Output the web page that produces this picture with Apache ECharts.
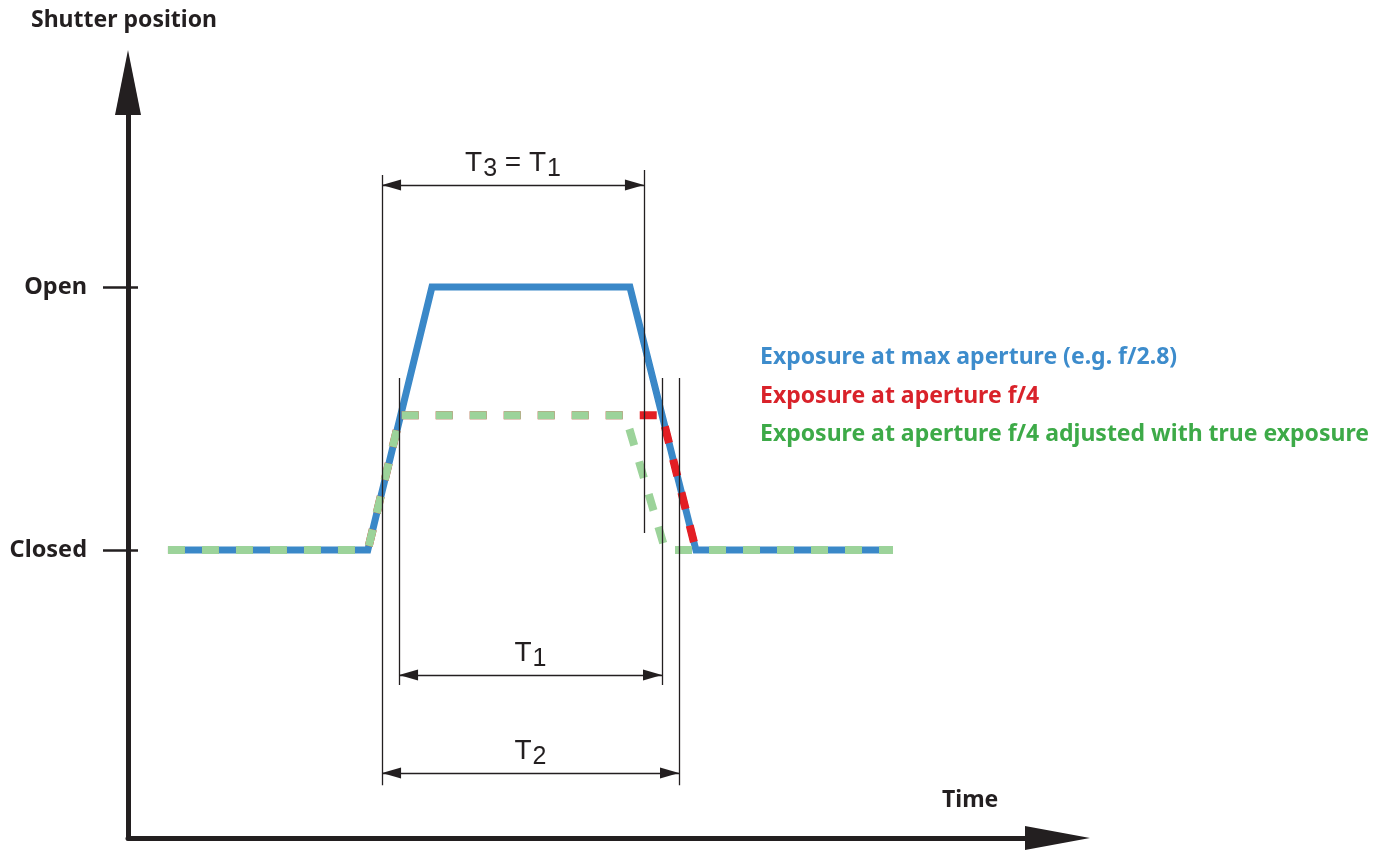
<!DOCTYPE html>
<html>
<head>
<meta charset="utf-8">
<script src="https://cdn.jsdelivr.net/npm/echarts@6/dist/echarts.min.js"></script>
<style>
  html, body { margin: 0; padding: 0; background: #fff; }
  #chart { width: 1379px; height: 853px; }
</style>
</head>
<body>
<div id="chart"></div>
<script>
// shutter position: 0 = closed, 1 = open ; time in arbitrary units
const seriesNames = [
  'Exposure at max aperture (e.g. f/2.8)',
  'Exposure at aperture f/4',
  'Exposure at aperture f/4 adjusted with true exposure'
]
const timeBlue = [4.3, 25.8, 32.7, 54.0, 61.1, 82.3]
const posBlue = [0, 0, 1, 1, 0, 0]
// red runs under the green one, only its closing slope shows
const timeRed = [4.3, 25.8, 29.3, 57.45, 61.1]
const posRed = [0, 0, 0.513, 0.513, 0]
const timeGreen = [4.3, 25.8, 29.3, 53.5, 57.8, 82.3]
const posGreen = [0, 0, 0.513, 0.513, 0, 0]

// thin vertical guides
const guideTimes = [27.33, 29.16, 55.51, 57.45, 59.28]
const guideTop = [1.426, 0.654, 1.445, 0.654, 0.654]
const guideBottom = [-0.894, -0.513, 0.065, -0.513, -0.894]

// dimension arrows
const spanLabels = ['{t|T}{s|3}{t| = T}{s|1}', '{t|T}{s|1}', '{t|T}{s|2}']
const spanStart = [27.33, 29.16, 27.33]
const spanEnd = [55.51, 57.45, 59.28]
const spanLevel = [1.388, -0.475, -0.848]

const posTicks = [0, 1]
const posTickLabels = ['Closed', 'Open']

const ink = '#231f20'
const colors = ['#3a88c8', '#e31e24', '#9cd39a']
const textColors = ['#3d8ccc', '#d9222a', '#3daa48']

const pairs = (xs, ys) => xs.map((x, i) => [x, ys[i]])

const chart = echarts.init(document.getElementById('chart'))

const guideLines = guideTimes.map((t, i) => [
  { coord: [t, guideTop[i]], symbol: 'none' },
  { coord: [t, guideBottom[i]], symbol: 'none' }
])

const spanLines = spanLabels.map((lab, i) => [
  {
    coord: [spanStart[i], spanLevel[i]],
    label: { show: true, formatter: lab }
  },
  { coord: [spanEnd[i], spanLevel[i]] }
])

const option = {
  animation: false,
  grid: { left: 128, right: 321.5, top: 82.5, bottom: 15 },
  legend: {
    orient: 'vertical',
    left: 750,
    top: 341,
    icon: 'none',
    itemWidth: 0,
    itemHeight: 18,
    itemGap: 15.5,
    selectedMode: false,
    textStyle: { fontFamily: 'Noto Sans', fontWeight: 'bold', fontSize: 23, lineHeight: 23 },
    data: seriesNames.map((n, i) => ({ name: n, textStyle: { color: textColors[i] } }))
  },
  graphic: [
    {
      type: 'text', x: 942, y: 800,
      style: { text: 'Time', font: 'bold 23px "Noto Sans"', fill: ink, verticalAlign: 'middle' }
    }
  ],
  xAxis: {
    type: 'value',
    min: 0,
    max: 100,
    axisLine: {
      onZero: false,
      symbol: ['none', 'triangle'],
      symbolSize: [24, 65],
      lineStyle: { color: ink, width: 5 }
    },
    axisTick: { show: false },
    axisLabel: { show: false },
    splitLine: { show: false }
  },
  yAxis: [
    {
      type: 'value',
      min: -1.095,
      max: 1.778,
      name: 'Shutter position',
      nameLocation: 'end',
      nameGap: 51,
      nameTextStyle: { color: ink, fontFamily: 'Noto Sans', fontWeight: 'bold', fontSize: 23, align: 'center', padding: [0, 8, 0, 0] },
      axisLine: {
        onZero: false,
        symbol: ['none', 'triangle'],
        symbolSize: [26, 65],
        lineStyle: { color: ink, width: 5 }
      },
      axisTick: {
        show: true,
        length: 25,
        customValues: posTicks,
        lineStyle: { color: ink, width: 2.5 }
      },
      axisLabel: {
        show: true,
        margin: 41,
        customValues: posTicks,
        formatter: (v) => posTickLabels[posTicks.indexOf(v)],
        color: ink,
        fontFamily: 'Noto Sans',
        fontWeight: 'bold',
        fontSize: 23.5
      },
      splitLine: { show: false }
    },
    {
      type: 'value',
      min: -1.095,
      max: 1.778,
      position: 'left',
      axisLine: { show: false, onZero: false },
      axisTick: {
        show: true,
        inside: true,
        length: 10,
        customValues: posTicks,
        lineStyle: { color: ink, width: 2.5 }
      },
      axisLabel: { show: false },
      splitLine: { show: false }
    }
  ],
  series: [
    {
      name: seriesNames[0],
      type: 'line',
      data: pairs(timeBlue, posBlue),
      showSymbol: false,
      lineStyle: { color: colors[0], width: 7, join: 'miter', cap: 'butt' },
      z: 2
    },
    {
      name: seriesNames[1],
      type: 'line',
      data: pairs(timeRed, posRed),
      showSymbol: false,
      lineStyle: { color: colors[1], width: 8, type: [17, 17], join: 'miter', cap: 'butt' },
      z: 3
    },
    {
      name: seriesNames[2],
      type: 'line',
      data: pairs(timeGreen, posGreen),
      showSymbol: false,
      lineStyle: { color: colors[2], width: 8, type: [17, 17], join: 'miter', cap: 'butt' },
      z: 4
    },
    {
      name: 'dimensions',
      type: 'line',
      data: [],
      z: 5,
      markLine: {
        silent: true,
        animation: false,
        symbol: ['triangle', 'triangle'],
        symbolSize: [11, 19],
        // pull each arrow back so its tip sits on the guide
        symbolOffset: [[0, 9.5], [0, 9.5]],
        lineStyle: { color: ink, width: 1.3, type: 'solid' },
        itemStyle: { color: ink },
        label: {
          show: false,
          position: 'insideMiddleTop',
          distance: 8,
          rich: {
            t: { fontFamily: 'Liberation Sans', fontSize: 28, lineHeight: 28, color: ink, verticalAlign: 'top' },
            s: { fontFamily: 'Liberation Sans', fontSize: 25, lineHeight: 25, color: ink, padding: [13, 0, 0, 1] }
          }
        },
        emphasis: { disabled: true },
        data: guideLines.concat(spanLines)
      }
    }
  ]
}

chart.setOption(option)
</script>
</body>
</html>
